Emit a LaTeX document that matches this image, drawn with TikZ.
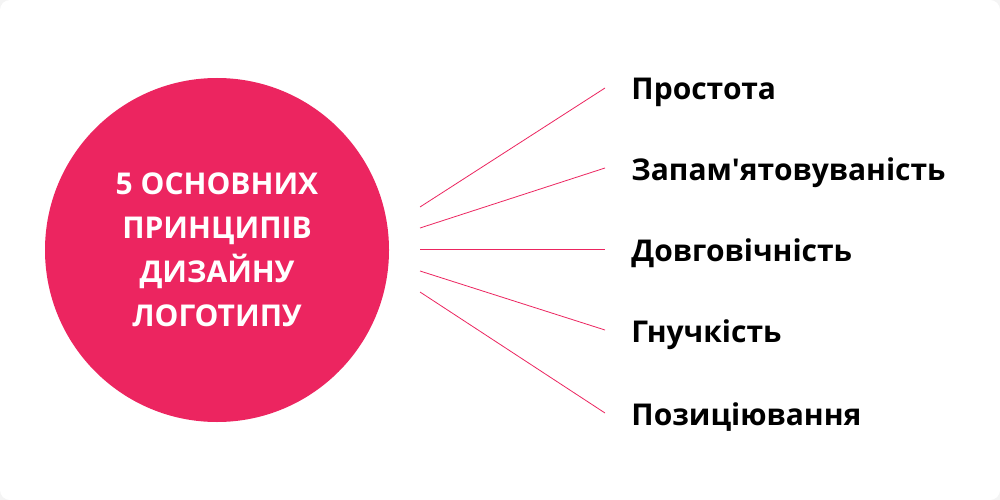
\documentclass[tikz,border=0pt]{standalone}
\usepackage{fontspec}
\setmainfont{Open Sans}[Ligatures=TeXOff]
\usetikzlibrary{calc}
\definecolor{logopink}{HTML}{EC2560}
\definecolor{pagegray}{HTML}{F4F4F4}

\begin{document}
\begin{tikzpicture}[x=1pt, y=-1pt, every path/.style={line width=0.8pt}, every node/.style={font=\bfseries\fontsize{30}{44}\selectfont}]
\fill[pagegray] (0,0) rectangle (1000,500);
\fill[white, rounded corners=10pt] (0,0) rectangle (1000,500);
\useasboundingbox (0,0) rectangle (1000,500);

\node[circle, fill=logopink, minimum size=344pt, inner sep=0pt, text=white, align=center] (hub) at (217,250) {5 ОСНОВНИХ\\ПРИНЦИПІВ\\ДИЗАЙНУ\\ЛОГОТИПУ};

\node[anchor=base west, inner sep=0pt] (p1) at (631,100) {Простота};
\node[anchor=base west, inner sep=0pt] (p2) at (631,180) {Запам'ятовуваність};
\node[anchor=base west, inner sep=0pt] (p3) at (631,261) {Довговічність};
\node[anchor=base west, inner sep=0pt] (p4) at (631,342) {Гнучкість};
\node[anchor=base west, inner sep=0pt] (p5) at (631,425) {Позиціювання};

\coordinate (a1) at (420,207);
\coordinate (a2) at (420,228);
\coordinate (a3) at (420,249);
\coordinate (a4) at (420,271);
\coordinate (a5) at (420,292);
\coordinate (b1) at (605,88);
\coordinate (b2) at (605,168);
\coordinate (b3) at (605,249);
\coordinate (b4) at (605,330);
\coordinate (b5) at (605,413);

\draw[logopink] (a1) -- (b1);
\draw[logopink] (a2) -- (b2);
\draw[logopink] (a3) -- (b3);
\draw[logopink] (a4) -- (b4);
\draw[logopink] (a5) -- (b5);
\end{tikzpicture}
\end{document}
